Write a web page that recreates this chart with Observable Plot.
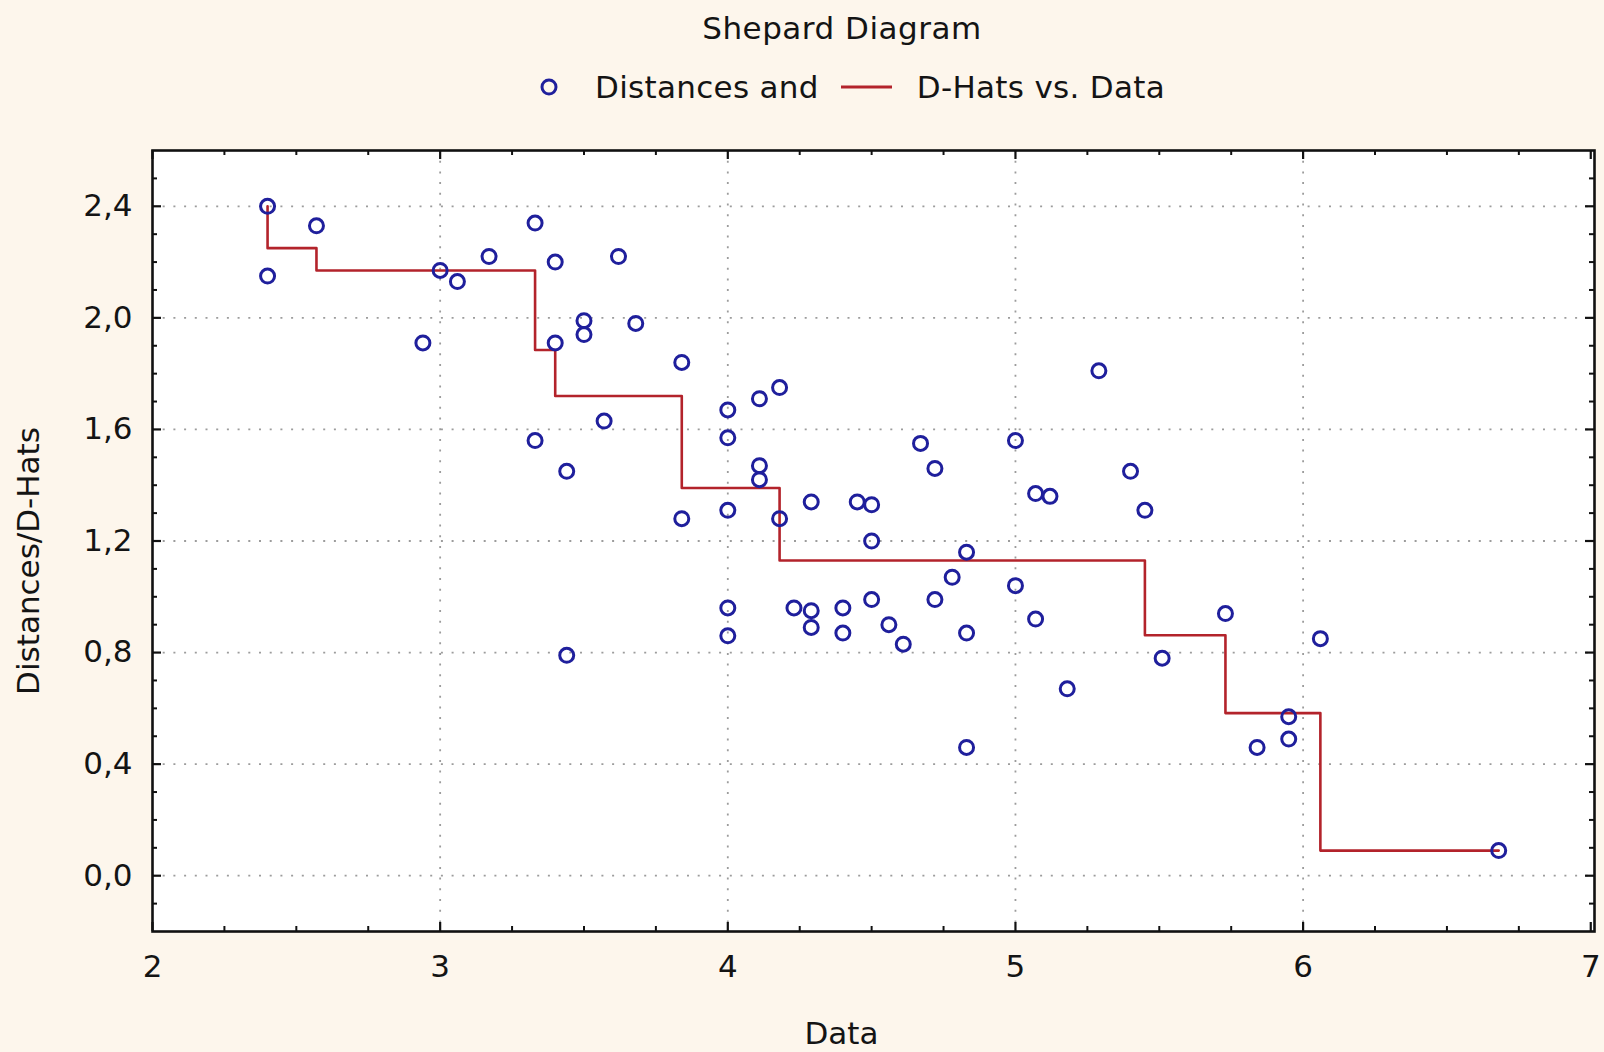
<!DOCTYPE html>
<html>
<head>
<meta charset="utf-8">
<script src="https://cdn.jsdelivr.net/npm/d3@7"></script>
<script src="https://cdn.jsdelivr.net/npm/@observablehq/plot@0.6"></script>
<style>
  html, body { margin: 0; padding: 0; background: #fdf6ec; }
  #wrap { width: 1604px; height: 1052px; overflow: hidden; font-family: "DejaVu Sans", sans-serif; color: #141414; }
  #title { height: 56px; line-height: 56px; font-size: 31px; letter-spacing: 0.5px; text-align: center; padding-left: 80px; box-sizing: border-box; }
  #legend { height: 62px; display: flex; align-items: center; justify-content: center; padding-left: 98px; box-sizing: border-box; font-size: 31px; letter-spacing: 0.3px; }
  #legend svg { display: block; }
</style>
</head>
<body>
<div id="wrap">
  <div id="title">Shepard Diagram</div>
  <div id="legend">
    <svg width="24" height="24"><circle cx="12" cy="12" r="7" fill="none" stroke="#1f1f9c" stroke-width="3"></circle></svg>
    <span style="margin-left:34px">Distances and</span>
    <svg width="51" height="10" style="margin-left:22px"><line x1="0" y1="5" x2="51" y2="5" stroke="#b3232b" stroke-width="3"></line></svg>
    <span style="margin-left:25px">D-Hats vs. Data</span>
  </div>
  <div id="chart"></div>
</div>
<script>
// ---- data ----
const dataX = [2.40, 2.40, 2.57, 3.00, 3.06, 2.94, 3.17, 3.33, 3.40, 3.40, 3.33, 3.44, 3.44, 3.50, 3.50, 3.57, 3.62, 3.68, 3.84, 3.84,
               4.00, 4.00, 4.00, 4.00, 4.00, 4.11, 4.18, 4.11, 4.11, 4.18, 4.23, 4.29, 4.29, 4.29, 4.40, 4.40, 4.45, 4.50, 4.50, 4.50,
               4.56, 4.61, 4.67, 4.72, 4.72, 4.78, 4.83, 4.83, 4.83, 5.00, 5.00, 5.07, 5.12, 5.07, 5.18, 5.29, 5.40, 5.45, 5.51, 5.73,
               5.84, 5.95, 5.95, 6.06, 6.68];
const distances = [2.40, 2.15, 2.33, 2.17, 2.13, 1.91, 2.22, 2.34, 2.20, 1.91, 1.56, 1.45, 0.79, 1.99, 1.94, 1.63, 2.22, 1.98, 1.84, 1.28,
                   1.67, 1.57, 1.31, 0.96, 0.86, 1.71, 1.75, 1.47, 1.42, 1.28, 0.96, 1.34, 0.95, 0.89, 0.96, 0.87, 1.34, 1.33, 1.20, 0.99,
                   0.90, 0.83, 1.55, 1.46, 0.99, 1.07, 1.16, 0.87, 0.46, 1.56, 1.04, 1.37, 1.36, 0.92, 0.67, 1.81, 1.45, 1.31, 0.78, 0.94,
                   0.46, 0.57, 0.49, 0.85, 0.09];
const dhatX = [2.40, 2.40, 2.57, 3.33, 3.40, 3.84, 4.18, 5.45, 5.73, 6.06, 6.68];
const dhatY = [2.40, 2.25, 2.17, 1.885, 1.72, 1.39, 1.13, 0.862, 0.583, 0.09, 0.09];

const xTicks = [2, 3, 4, 5, 6, 7];
const xGrid = [3, 4, 5, 6];
const xMinor = [2.25, 2.5, 2.75, 3.25, 3.5, 3.75, 4.25, 4.5, 4.75, 5.25, 5.5, 5.75, 6.25, 6.5, 6.75];
const yTicks = [0, 0.4, 0.8, 1.2, 1.6, 2.0, 2.4];
const yTickLabels = ["0,0", "0,4", "0,8", "1,2", "1,6", "2,0", "2,4"];
const yMinor = [-0.1, 0.1, 0.2, 0.3, 0.5, 0.6, 0.7, 0.9, 1.0, 1.1, 1.3, 1.4, 1.5, 1.7, 1.8, 1.9, 2.1, 2.2, 2.3, 2.5];

const points = dataX.map((x, i) => ({x, y: distances[i]}));
const steps = dhatX.map((x, i) => ({x, y: dhatY[i]}));

const W = 1604, H = 934, mt = 32, mb = 121, ml = 152, mr = 10;
const pw = W - ml - mr, ph = H - mt - mb;
const major = 9, minor = 5;
const font = 31;

const chart = Plot.plot({
  width: W, height: H,
  marginTop: mt, marginBottom: mb, marginLeft: ml, marginRight: mr,
  style: {background: "transparent", fontFamily: "DejaVu Sans, sans-serif", fontSize: font + "px", color: "#141414", overflow: "visible"},
  x: {domain: [2, 7.013]},
  y: {domain: [-0.2, 2.6]},
  marks: [
    Plot.frame({fill: "white"}),
    Plot.ruleX(xGrid, {x: d => d, stroke: "#9c9c9c", strokeWidth: 1.8, strokeDasharray: "2,8.7"}),
    Plot.ruleY(yTicks, {y: d => d, stroke: "#9c9c9c", strokeWidth: 1.8, strokeDasharray: "2,8.7"}),
    Plot.line(steps, {x: "x", y: "y", curve: "step-after", stroke: "#b3232b", strokeWidth: 2.6}),
    Plot.dot(points, {x: "x", y: "y", r: 7, stroke: "#1f1f9c", strokeWidth: 3, fill: "none"}),
    // inward ticks on all four sides
    Plot.tickX(xTicks, {x: d => d, insetTop: ph - major, stroke: "#111", strokeWidth: 2.2}),
    Plot.tickX(xTicks, {x: d => d, insetBottom: ph - major, stroke: "#111", strokeWidth: 2.2}),
    Plot.tickX(xMinor, {x: d => d, insetTop: ph - minor, stroke: "#111", strokeWidth: 2}),
    Plot.tickX(xMinor, {x: d => d, insetBottom: ph - minor, stroke: "#111", strokeWidth: 2}),
    Plot.tickY(yTicks, {y: d => d, insetRight: pw - major, stroke: "#111", strokeWidth: 2.2}),
    Plot.tickY(yTicks, {y: d => d, insetLeft: pw - major, stroke: "#111", strokeWidth: 2.2}),
    Plot.tickY(yMinor, {y: d => d, insetRight: pw - minor, stroke: "#111", strokeWidth: 2}),
    Plot.tickY(yMinor, {y: d => d, insetLeft: pw - minor, stroke: "#111", strokeWidth: 2}),
    Plot.frame({stroke: "#111", strokeWidth: 2.6}),
    Plot.axisX({ticks: xTicks, tickSize: 0, tickPadding: 23, tickFormat: d => String(d), fontSize: font, label: null}),
    Plot.axisY({ticks: yTicks, tickSize: 0, tickPadding: 20, tickFormat: d => yTickLabels[yTicks.indexOf(d)], fontSize: font, label: null}),
    Plot.text(["Data"], {frameAnchor: "bottom", text: d => d, dx: -32, dy: 112, fontSize: font, fill: "#141414"}),
    Plot.text(["Distances/D-Hats"], {frameAnchor: "left", text: d => d, textAnchor: "middle", rotate: -90, dx: -123, dy: 20, fontSize: font, fill: "#141414"})
  ]
});
document.getElementById("chart").appendChild(chart);
</script>
</body>
</html>
